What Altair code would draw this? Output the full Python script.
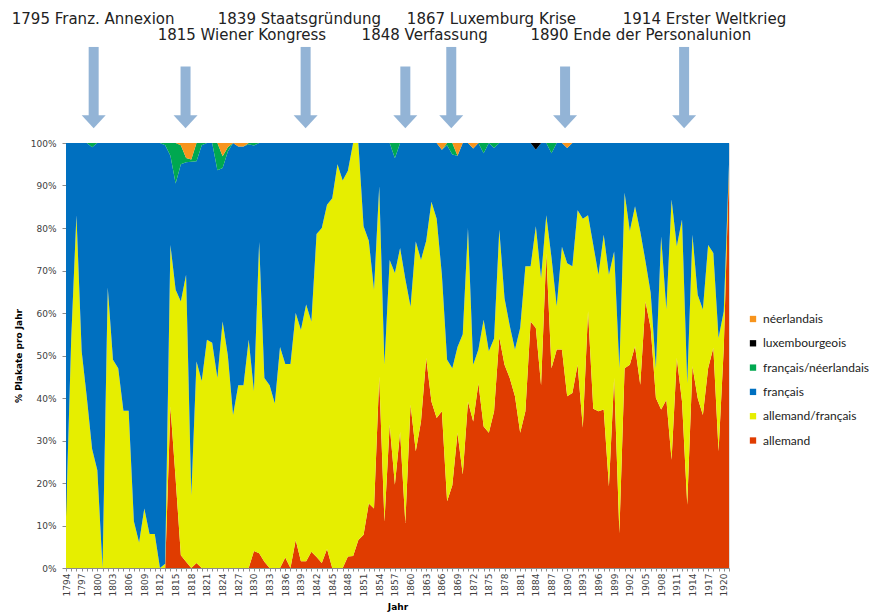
import altair as alt
import pandas as pd

# ---------------- data (percent of posters per year) ----------------
years = list(range(1794, 1922))

# rows of ten years: 1794-1803, 1804-1813, ..., 1904-1913, then 1914-1921
allemand = [
    0, 0, 0, 0, 0, 0, 0, 0, 0, 0,
    0, 0, 0, 0, 0, 0, 0, 0, 0, 0,
    38, 21, 3, 1.5, 0, 1.2, 0, 0, 0, 0,
    0, 0, 0, 0, 0, 0, 4, 3.5, 1.5, 0,
    0, 0, 2.5, 0, 6.6, 1.6, 1.6, 3.8, 2.6, 1.2,
    4.5, 0, 0, 0, 2.7, 2.8, 6.6, 7.8, 15.2, 14,
    45, 10.9, 33.7, 19.6, 32, 10.6, 38.4, 27.5, 34.5, 49.4,
    39.2, 35.3, 36.9, 15.7, 19.5, 31.8, 22, 39.2, 34.5, 43.5,
    33.3, 31.8, 36.9, 54.3, 47.8, 44.7, 40.4, 31.8, 36.9, 58,
    56.5, 43, 74, 47, 51.4, 51.4, 40.4, 41.2, 47.8, 33,
    60.4, 37.5, 36.9, 37.3, 19.2, 44.7, 8.2, 47, 47.8, 52.2,
    43.1, 62.7, 56.5, 40, 37.3, 39.6, 25.5, 49.4, 39.2, 14.9,
    47.5, 40, 36, 47, 51.8, 27.5, 51.8, 94,
]

allemand_francais = [
    12, 54, 83, 51, 40, 28, 23, 0, 66, 49,
    47, 37, 37, 11, 6, 14, 8, 8, 0, 1,
    38, 44.5, 59.7, 67.5, 17, 47.4, 44, 53.7, 53, 44.7,
    58, 50, 36, 43, 43, 53.7, 37.6, 73.2, 43.2, 43,
    38.7, 52, 45.5, 48, 53.4, 54.4, 60.4, 54.2, 76, 78.8,
    81, 87, 95, 91.2, 90.8, 97.2, 93.4, 72.6, 61.8, 51.5,
    44.8, 36.9, 38.8, 49.8, 43.3, 57.4, 23.1, 49.3, 38, 27.6,
    47, 46.9, 32.1, 33.3, 27.5, 20.2, 33, 40.8, 13.3, 7.9,
    25.1, 19.2, 17.1, 25.3, 15.7, 12.3, 11, 24.7, 34.1, 13,
    23.9, 25.2, 9, 26, 10.2, 24.2, 31.3, 29.8, 36.4, 49.2,
    22.6, 38.5, 32.1, 41.1, 49.8, 29.8, 38.8, 41.3, 31.5, 32.9,
    36.1, 9.5, 8.2, 7, 40.7, 21.2, 61.2, 26.3, 42.8, 28.6,
    30.9, 24.3, 24.8, 29, 22.3, 26.6, 8.6, 1,
]

francais = [
    88, 46, 17, 49, 60, 71, 77, 100, 34, 51,
    53, 63, 63, 89, 94, 86, 92, 92, 100, 98.5,
    21, 25, 32.3, 26.5, 78.6, 47.1, 55.5, 46.3, 47, 48.9,
    36.1, 48, 64, 56.2, 56.2, 46, 57.8, 23.3, 55.3, 57,
    61.3, 48, 52, 52, 40, 44, 38, 42, 21.4, 20,
    14.5, 13, 5, 8.8, 6.5, 0, 0, 19.6, 23, 34.5,
    10.2, 52.2, 27.5, 27, 24.7, 32, 38.5, 23.2, 27.5, 23,
    13.8, 17.8, 29.4, 50.5, 50.3, 45, 45, 20, 50.9, 48.6,
    39.2, 49, 44.8, 20.4, 36.5, 43, 48.6, 43.5, 29, 29,
    18, 31.8, 17, 24.6, 38.4, 24.4, 27.1, 29, 15.8, 17.8,
    17, 24, 31, 21.6, 31, 25.5, 53, 11.7, 20.7, 14.9,
    20.8, 27.8, 35.3, 53, 22, 39.2, 13.3, 24.3, 18, 56.5,
    21.6, 35.7, 39.2, 24, 25.9, 45.9, 39.6, 5,
]

francais_neerlandais = [
    0, 0, 0, 0, 0, 1, 0, 0, 0, 0,
    0, 0, 0, 0, 0, 0, 0, 0, 0, 0.5,
    3, 9.5, 4.5, 1, 0.5, 4.3, 0.5, 0, 0, 6.4,
    2.8, 1, 0, 0, 0, 0.3, 0.6, 0, 0, 0,
    0, 0, 0, 0, 0, 0, 0, 0, 0, 0,
    0, 0, 0, 0, 0, 0, 0, 0, 0, 0,
    0, 0, 0, 3.6, 0, 0, 0, 0, 0, 0,
    0, 0, 0, 0.5, 2.7, 0, 0, 0, 0, 0,
    2.4, 0, 1.2, 0, 0, 0, 0, 0, 0, 0,
    0, 0, 0, 2.4, 0, 0, 0, 0, 0, 0,
    0, 0, 0, 0, 0, 0, 0, 0, 0, 0,
    0, 0, 0, 0, 0, 0, 0, 0, 0, 0,
    0, 0, 0, 0, 0, 0, 0, 0,
]

luxembourgeois = [
    0, 0, 0, 0, 0, 0, 0, 0, 0, 0,
    0, 0, 0, 0, 0, 0, 0, 0, 0, 0,
    0, 0, 0, 0, 0, 0, 0, 0, 0, 0,
    0, 0, 0, 0, 0, 0, 0, 0, 0, 0,
    0, 0, 0, 0, 0, 0, 0, 0, 0, 0,
    0, 0, 0, 0, 0, 0, 0, 0, 0, 0,
    0, 0, 0, 0, 0, 0, 0, 0, 0, 0,
    0, 0, 0, 0, 0, 0, 0, 0, 0, 0,
    0, 0, 0, 0, 0, 0, 0, 0, 0, 0,
    1.6, 0, 0, 0, 0, 0, 0, 0, 0, 0,
    0, 0, 0, 0, 0, 0, 0, 0, 0, 0,
    0, 0, 0, 0, 0, 0, 0, 0, 0, 0,
    0, 0, 0, 0, 0, 0, 0, 0,
]

neerlandais = [
    0, 0, 0, 0, 0, 0, 0, 0, 0, 0,
    0, 0, 0, 0, 0, 0, 0, 0, 0, 0,
    0, 0, 0.5, 3.5, 3.9, 0, 0, 0, 0, 0,
    3.1, 1, 0, 0.8, 0.8, 0, 0, 0, 0, 0,
    0, 0, 0, 0, 0, 0, 0, 0, 0, 0,
    0, 0, 0, 0, 0, 0, 0, 0, 0, 0,
    0, 0, 0, 0, 0, 0, 0, 0, 0, 0,
    0, 0, 1.6, 0, 0, 3, 0, 0, 1.3, 0,
    0, 0, 0, 0, 0, 0, 0, 0, 0, 0,
    0, 0, 0, 0, 0, 0, 1.2, 0, 0, 0,
    0, 0, 0, 0, 0, 0, 0, 0, 0, 0,
    0, 0, 0, 0, 0, 0, 0, 0, 0, 0,
    0, 0, 0, 0, 0, 0, 0, 0,
]

series_names = ["allemand", "allemand/français", "français",
                "français/néerlandais", "luxembourgeois", "néerlandais"]
series_values = [allemand, allemand_francais, francais,
                 francais_neerlandais, luxembourgeois, neerlandais]
series_colors = ["#E03C00", "#E6EE00", "#0070C0", "#00A850", "#000000", "#F7941D"]

# annotations (historic events)
ann_labels = ["1795 Franz. Annexion", "1815 Wiener Kongress", "1839 Staatsgründung",
              "1848 Verfassung", "1867 Luxemburg Krise",
              "1890 Ende der Personalunion", "1914 Erster Weltkrieg"]
ann_text_x = [1799.2, 1827.7, 1838.7, 1862.7, 1875.5, 1904.1, 1916.3]
ann_text_y = [1.280, 1.242, 1.280, 1.242, 1.280, 1.242, 1.280]
arrow_x = [1799.3, 1816.9, 1839.9, 1859.0, 1867.8, 1889.6, 1912.4]
arrow_top = [1.226, 1.180, 1.226, 1.180, 1.226, 1.180, 1.226]
arrow_shaft_end = [1.061] * 7
arrow_head_y = [1.050] * 7

# ---------------- build tables ----------------
rows = []
for rank, (name, vals) in enumerate(zip(series_names, series_values)):
    for yr, v in zip(years, vals):
        rows.append({"Jahr": yr, "Sprache": name, "Anteil": v, "rang": rank})
df = pd.DataFrame(rows)

ann_df = pd.DataFrame({"tx": ann_text_x, "ty": ann_text_y, "label": ann_labels})
arrow_df = pd.DataFrame({"ax": arrow_x, "atop": arrow_top,
                         "abot": arrow_shaft_end, "ahead": arrow_head_y})

legend_order = series_names[::-1]
color_range = series_colors[::-1]

x_scale = alt.Scale(domain=[1794, 1921], nice=False, zero=False)
y_scale = alt.Scale(domain=[0, 1], nice=False)

axis_grey = "#8C8C8C"
arrow_col = "#93B4D6"

x_axis = alt.Axis(title="Jahr", values=years, format="d",
                  labelExpr="(datum.value - 1794) % 3 == 0 && datum.value <= 1920 ? datum.label : ''",
                  labelAngle=270, labelFont="DejaVu Sans", labelFontSize=9,
                  labelColor="#404040", labelOverlap=False, labelFlush=False,
                  labelPadding=2, tickSize=3, tickColor=axis_grey,
                  domainColor=axis_grey, grid=False,
                  titleFont="DejaVu Sans", titleFontSize=9,
                  titleFontWeight="bold", titleColor="#000000", titlePadding=7)
y_axis = alt.Axis(title="% Plakate pro Jahr", format=".0%",
                  values=[i / 10 for i in range(11)],
                  labelFont="DejaVu Sans", labelFontSize=9, labelColor="#404040",
                  labelPadding=6, tickSize=4, tickColor=axis_grey,
                  domainColor=axis_grey, grid=False,
                  titleFont="DejaVu Sans", titleFontSize=9,
                  titleFontWeight="bold", titleColor="#000000", titlePadding=7)

area = alt.Chart(df).mark_area(interpolate="linear").encode(
    x=alt.X("Jahr:Q", scale=x_scale, axis=x_axis),
    y=alt.Y("Anteil:Q", stack="normalize", scale=y_scale, axis=y_axis),
    color=alt.Color("Sprache:N",
                    scale=alt.Scale(domain=legend_order, range=color_range),
                    legend=alt.Legend(title=None, orient="none", legendX=681, legendY=170,
                                      symbolType="square", symbolSize=40,
                                      symbolStrokeWidth=0, labelFont="Lato",
                                      labelFontSize=12, labelColor="#222222",
                                      labelOffset=4, rowPadding=12.3, padding=0)),
    order=alt.Order("rang:Q", sort="ascending"),
)

shafts = alt.Chart(arrow_df).mark_rule(strokeWidth=10, color=arrow_col).encode(
    x=alt.X("ax:Q", scale=x_scale, axis=x_axis),
    y=alt.Y("atop:Q", scale=y_scale, axis=y_axis),
    y2="abot:Q",
)

heads = alt.Chart(arrow_df).mark_point(
    shape="M-1,-0.55L1,-0.55L0,0.55Z", filled=True, size=576,
    color=arrow_col, opacity=1, strokeWidth=0,
).encode(
    x=alt.X("ax:Q", scale=x_scale, axis=x_axis),
    y=alt.Y("ahead:Q", scale=y_scale, axis=y_axis),
)

texts = alt.Chart(ann_df).mark_text(
    align="center", baseline="alphabetic", font="DejaVu Sans",
    fontSize=15, color="#222222",
).encode(
    x=alt.X("tx:Q", scale=x_scale, axis=x_axis),
    y=alt.Y("ty:Q", scale=y_scale, axis=y_axis),
    text="label:N",
)

chart = alt.layer(area, shafts, heads, texts).properties(
    width=663, height=425,
    padding={"left": 3, "top": 4, "right": 0, "bottom": 0},
).configure_view(stroke=None).configure(background="white")

chart.save("out.html", embed_options={"renderer": "svg", "actions": False})
